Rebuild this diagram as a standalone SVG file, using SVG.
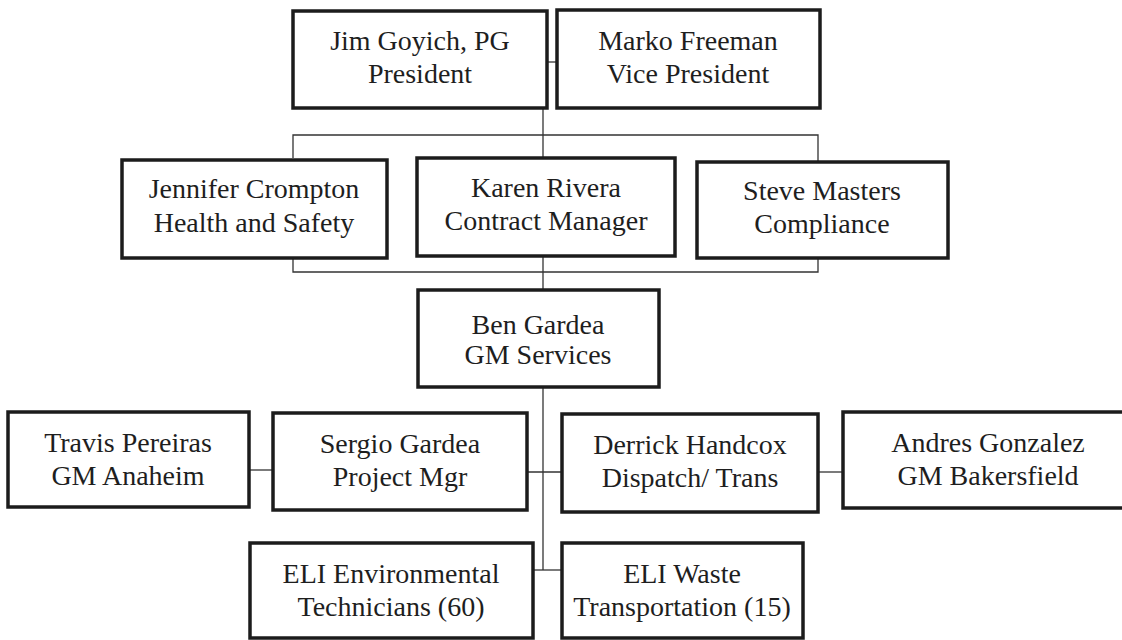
<svg xmlns="http://www.w3.org/2000/svg" width="1122" height="640" viewBox="0 0 1122 640">
<style>
.box{fill:#fff;stroke:#1c1c1c;stroke-width:3.5}
.t{font-size:28px;fill:#1e1e1e;text-anchor:middle}
.c{fill:none;stroke:#333;stroke-width:1.3}
</style>
<rect width="1122" height="640" fill="#fff"/>
<g id="connectors">
<line class="c" x1="548" y1="62" x2="556" y2="62"/>
<line class="c" x1="543" y1="108" x2="543" y2="158"/>
<path class="c" d="M293,158 V135 H818 V162"/>
<path class="c" d="M293,258 V272 H818 V258"/>
<line class="c" x1="543" y1="256" x2="543" y2="290"/>
<line class="c" x1="543" y1="387" x2="543" y2="570"/>
<line class="c" x1="527" y1="472" x2="562" y2="472"/>
<line class="c" x1="249" y1="470" x2="273" y2="470"/>
<line class="c" x1="818" y1="472" x2="843" y2="472"/>
<line class="c" x1="533" y1="570" x2="562" y2="570"/>
</g>
<g font-family="Liberation Serif, DejaVu Serif, serif">
<g id="jim"><rect class="box" x="293" y="11" width="254" height="97"/><text class="t" x="420" y="50">Jim Goyich, PG</text><text class="t" x="420" y="83">President</text></g>
<g id="marko"><rect class="box" x="557" y="10" width="263" height="98"/><text class="t" x="688" y="50">Marko Freeman</text><text class="t" x="688" y="83">Vice President</text></g>
<g id="jennifer"><rect class="box" x="122" y="160" width="265" height="98"/><text class="t" x="254" y="198">Jennifer Crompton</text><text class="t" x="254" y="232">Health and Safety</text></g>
<g id="karen"><rect class="box" x="417" y="158" width="258" height="98"/><text class="t" x="546" y="197">Karen Rivera</text><text class="t" x="546" y="230">Contract Manager</text></g>
<g id="steve"><rect class="box" x="697" y="162" width="251" height="96"/><text class="t" x="822" y="200">Steve Masters</text><text class="t" x="822" y="233">Compliance</text></g>
<g id="ben"><rect class="box" x="418" y="290" width="241" height="97"/><text class="t" x="538" y="334">Ben Gardea</text><text class="t" x="538" y="364">GM Services</text></g>
<g id="travis"><rect class="box" x="8" y="412" width="241" height="95"/><text class="t" x="128" y="452">Travis Pereiras</text><text class="t" x="128" y="485">GM Anaheim</text></g>
<g id="sergio"><rect class="box" x="273" y="413" width="254" height="97"/><text class="t" x="400" y="453">Sergio Gardea</text><text class="t" x="400" y="486">Project Mgr</text></g>
<g id="derrick"><rect class="box" x="562" y="414" width="256" height="98"/><text class="t" x="690" y="454">Derrick Handcox</text><text class="t" x="690" y="487">Dispatch/ Trans</text></g>
<g id="andres"><rect class="box" x="843" y="412" width="292" height="96"/><text class="t" x="988" y="452">Andres Gonzalez</text><text class="t" x="988" y="485">GM Bakersfield</text></g>
<g id="eli-env"><rect class="box" x="250" y="543" width="283" height="95"/><text class="t" x="391" y="583">ELI Environmental</text><text class="t" x="391" y="616">Technicians (60)</text></g>
<g id="eli-waste"><rect class="box" x="562" y="543" width="241" height="95"/><text class="t" x="682" y="583">ELI Waste</text><text class="t" x="682" y="616">Transportation (15)</text></g>
</g>
</svg>
